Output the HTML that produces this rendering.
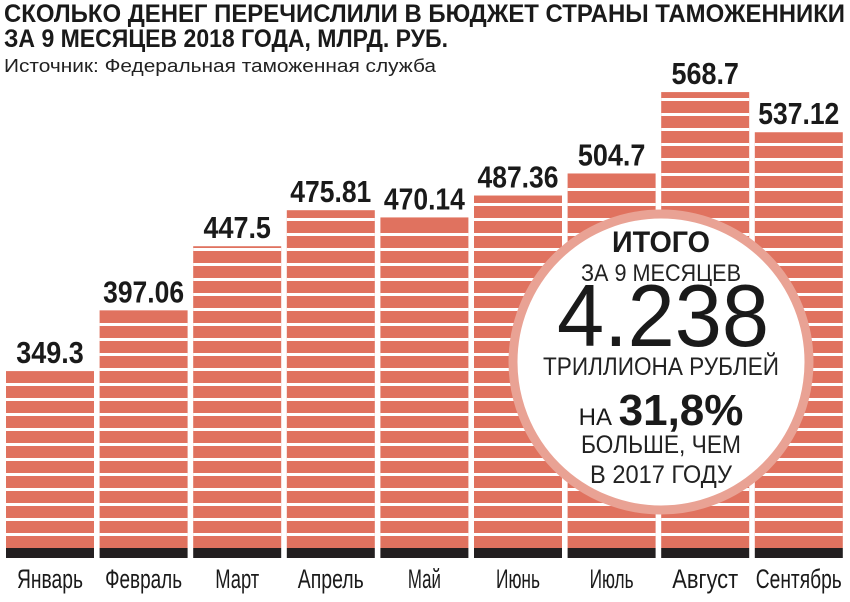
<!DOCTYPE html>
<html><head><meta charset="utf-8"><style>
html,body{margin:0;padding:0;background:#fff;}
svg{display:block;}
text{font-family:"Liberation Sans","DejaVu Sans",sans-serif;}
</style></head><body>
<svg id="chart" width="850" height="602" viewBox="0 0 850 602" xmlns="http://www.w3.org/2000/svg">
<text x="4" y="22" font-size="25" font-weight="bold" fill="#1a1a1a" textLength="841" lengthAdjust="spacingAndGlyphs">СКОЛЬКО ДЕНЕГ ПЕРЕЧИСЛИЛИ В БЮДЖЕТ СТРАНЫ ТАМОЖЕННИКИ</text>
<text x="4" y="47" font-size="25" font-weight="bold" fill="#1a1a1a" textLength="444" lengthAdjust="spacingAndGlyphs">ЗА 9 МЕСЯЦЕВ 2018 ГОДА, МЛРД. РУБ.</text>
<text x="4" y="72" font-size="18" fill="#222" textLength="432" lengthAdjust="spacingAndGlyphs">Источник: Федеральная таможенная служба</text>
<g id="bars"></g>
<g>
<circle cx="661" cy="362" r="148" fill="#fff" stroke="#e9a294" stroke-width="9"/>
<text x="661" y="252" text-anchor="middle" font-size="30" font-weight="bold" fill="#1a1a1a" textLength="98" lengthAdjust="spacingAndGlyphs">ИТОГО</text>
<text x="661" y="281" text-anchor="middle" font-size="24" fill="#222" textLength="160" lengthAdjust="spacingAndGlyphs">ЗА 9 МЕСЯЦЕВ</text>
<text x="663" y="346" text-anchor="middle" font-size="88" fill="#1a1a1a" textLength="212" lengthAdjust="spacingAndGlyphs">4.238</text>
<text x="661" y="375" text-anchor="middle" font-size="25" fill="#222" textLength="236" lengthAdjust="spacingAndGlyphs">ТРИЛЛИОНА РУБЛЕЙ</text>
<text x="661" y="425" text-anchor="middle" fill="#1a1a1a"><tspan font-size="24" dy="0">НА </tspan><tspan font-size="44" font-weight="bold">31,8%</tspan></text>
<text x="661" y="453" text-anchor="middle" font-size="25" fill="#222" textLength="160" lengthAdjust="spacingAndGlyphs">БОЛЬШЕ, ЧЕМ</text>
<text x="661" y="483" text-anchor="middle" font-size="25" fill="#222" textLength="142" lengthAdjust="spacingAndGlyphs">В 2017 ГОДУ</text>
</g>
</svg>
<script>
const months = ["Январь","Февраль","Март","Апрель","Май","Июнь","Июль","Август","Сентябрь"];
const values = [349.3,397.06,447.5,475.81,470.14,487.36,504.7,568.7,537.12];
const valueLabels = ["349.3","397.06","447.5","475.81","470.14","487.36","504.7","568.7","537.12"];

const NS = "http://www.w3.org/2000/svg";
const g = document.getElementById('bars');
function yScale(v){ return 815.3 - 1.2717 * v; }
function xScale(i){ return 6 + i * 93.6; }
const barW = 88, stripeBottom = 548, bandTop = 548, bandH = 10;
function mk(tag, attrs){ const e = document.createElementNS(NS, tag); for (const k in attrs) e.setAttribute(k, attrs[k]); return e; }
values.forEach((v, i) => {
  const x = xScale(i), top = yScale(v);
  const bar = mk('rect', {x: x, y: top, width: barW, height: stripeBottom - top, fill: '#e0725f'});
  
  
  g.appendChild(bar);
  for (let yy = stripeBottom - 12; yy > top + 4; yy -= 15) {
    const ln = mk('rect', {x: x, y: yy - 3, width: barW, height: 3, fill: '#fff'});
    
    
    g.appendChild(ln);
  }
  const band = mk('rect', {x: x, y: bandTop, width: barW, height: bandH, fill: '#231f20'});
  
  
  g.appendChild(band);
  const lbl = mk('text', {x: x + barW / 2, y: top - 8, 'text-anchor': 'middle', 'font-size': '31', 'font-weight': 'bold', fill: '#1a1a1a', textLength: valueLabels[i].length * 13.5, lengthAdjust: 'spacingAndGlyphs'});
  
  
  lbl.textContent = valueLabels[i];
  g.appendChild(lbl);
  const ml = mk('text', {x: x + barW / 2, y: 588, 'text-anchor': 'middle', 'font-size': '27', fill: '#1a1a1a', textLength: Math.min(86, months[i].length * 11), lengthAdjust: 'spacingAndGlyphs'});
  
  
  ml.textContent = months[i];
  g.appendChild(ml);
});
</script>
</body></html>
